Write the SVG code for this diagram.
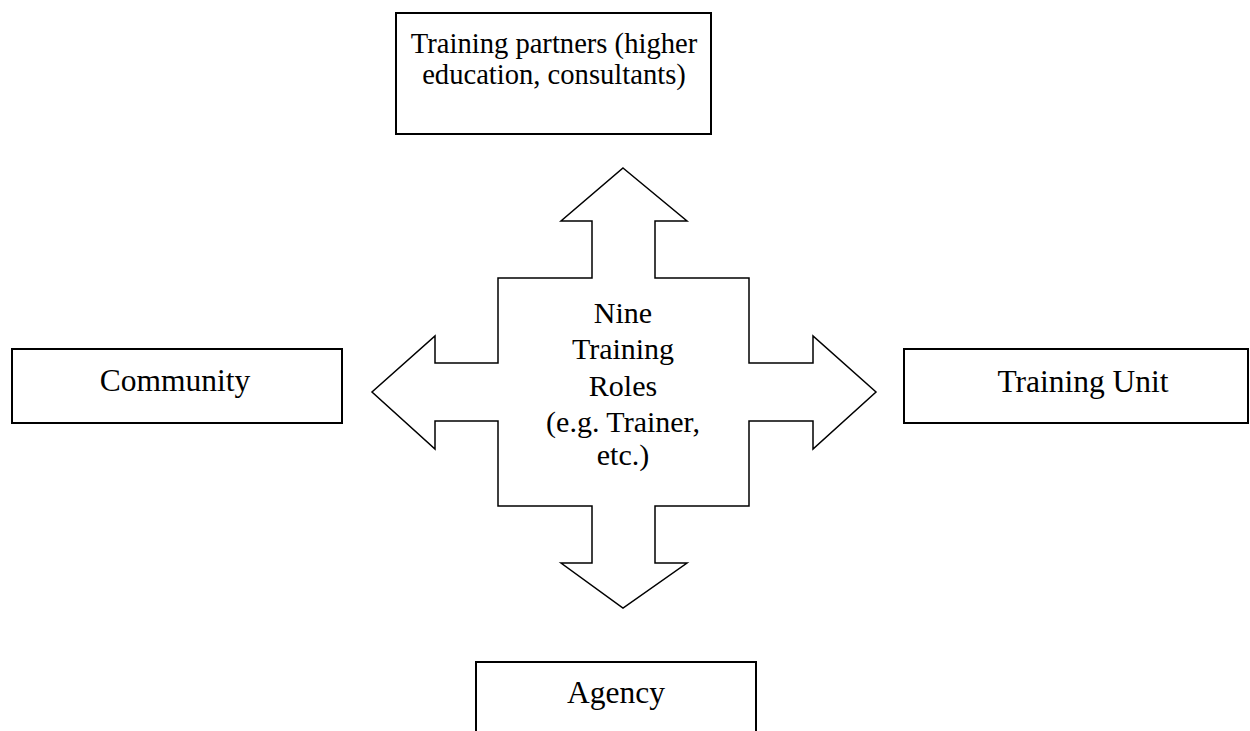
<svg xmlns="http://www.w3.org/2000/svg" width="1250" height="731" viewBox="0 0 1250 731">
<style>
.box{fill:#fff;stroke:#000;stroke-width:2}
.shape{fill:#fff;stroke:#000;stroke-width:1.5;stroke-linejoin:miter}
text{font-family:"Liberation Serif","Times New Roman",serif;font-size:30px;fill:#000;text-anchor:middle}
.big{font-size:31.5px}
.top{font-size:28.6px}
</style>
<rect width="1250" height="731" fill="#fff"/>
<g id="connectors">
<path class="shape" d="M623,168 L687,221 L655,221 L655,278 L749,278 L749,363 L813,363 L813,336 L876,392 L813,449 L813,421 L749,421 L749,506 L655,506 L655,563 L687,563 L623,608 L561,563 L592,563 L592,506 L498,506 L498,421 L435,421 L435,449 L372,392 L435,336 L435,363 L498,363 L498,278 L592,278 L592,221 L561,221 Z"/>
</g>
<g id="center">
<text x="623" y="323">Nine</text>
<text x="623" y="359">Training</text>
<text x="623" y="396">Roles</text>
<text x="623" y="432">(e.g. Trainer,</text>
<text x="623" y="465">etc.)</text>
</g>
<g id="training-partners">
<rect class="box" x="396" y="13" width="315" height="121"/>
<text class="top" x="554" y="53">Training partners (higher</text>
<text class="top" x="554" y="84">education, consultants)</text>
</g>
<g id="community">
<rect class="box" x="12" y="349" width="330" height="74"/>
<text class="big" x="175" y="391">Community</text>
</g>
<g id="training-unit">
<rect class="box" x="904" y="349" width="344" height="74"/>
<text class="big" x="1083" y="392">Training Unit</text>
</g>
<g id="agency">
<rect class="box" x="476" y="662" width="280" height="80"/>
<text class="big" x="616" y="703">Agency</text>
</g>
</svg>
